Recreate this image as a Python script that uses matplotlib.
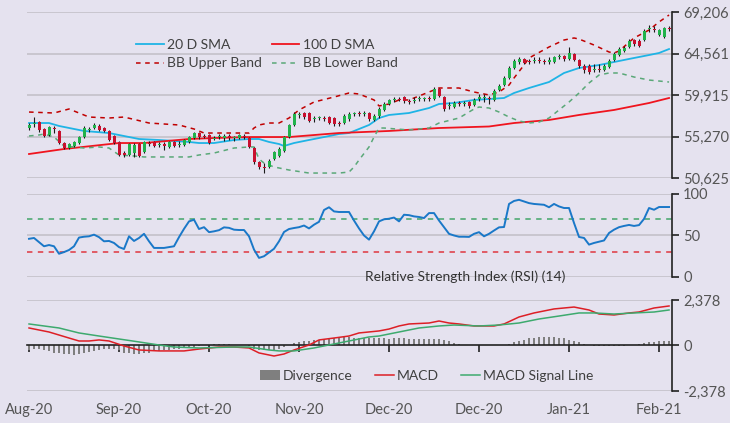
import numpy as np
import matplotlib.pyplot as plt

plt.rcParams['font.family'] = ['Lato', 'DejaVu Sans']

# ---- price candles (one per trading day) ----
opens = [56220, 56670, 56890, 56110, 55440, 56220, 55890, 54540, 53980, 54210,
         54540, 55210, 56000, 56220, 56450, 56220, 55890, 55330, 54660, 53420,
         53200, 53420, 54430, 53540, 54540, 54660, 54320, 54430, 54100, 54660,
         54320, 54320, 54660, 55100, 55660, 55330, 55440, 54990, 55210, 55100,
         55330, 55100, 55100, 55330, 55100, 53980, 52420, 51860, 51860, 52750,
         53090, 53650, 55210, 56560, 57680, 57900, 57900, 57230, 57340, 57340,
         57450, 57340, 56780, 56780, 57230, 57790, 57900, 57790, 57900, 57120,
         57570, 58240, 58910, 59360, 59470, 59690, 59240, 59240, 59470, 59470,
         59580, 59470, 60590, 59690, 58680, 58570, 59020, 58910, 59130, 58800,
         59470, 59580, 59580, 59360, 60480, 61030, 61820, 62940, 63610, 63950,
         63720, 63720, 63830, 63720, 63610, 63610, 64170, 64280, 63950, 64500,
         63830, 63160, 63160, 62710, 62830, 62710, 63050, 63830, 64390, 64840,
         65290, 66070, 65960, 66070, 67300, 67300, 66630, 66410, 67420]
closes = [56560, 56780, 56000, 55330, 56330, 56110, 54540, 53980, 54430, 54660,
          55210, 56220, 56110, 56560, 56000, 55890, 54880, 54540, 53200, 53200,
          54430, 54320, 53090, 54660, 54430, 54210, 54430, 54210, 54660, 54210,
          54430, 54880, 55210, 55660, 55210, 55210, 54540, 55100, 55330, 55330,
          55100, 55210, 55440, 55210, 54100, 52420, 51860, 51740, 52530, 53540,
          53870, 55210, 56560, 57790, 57790, 57450, 57010, 57340, 57450, 57230,
          56780, 56670, 56670, 57570, 57790, 57900, 57790, 57900, 57230, 57570,
          58350, 58910, 59360, 59470, 59360, 59240, 59130, 59360, 59580, 59580,
          59470, 60590, 59800, 58350, 58800, 59020, 58910, 59020, 58680, 59360,
          59690, 59690, 59470, 60360, 60920, 61820, 62940, 63720, 63950, 63500,
          63610, 63830, 63720, 63610, 63830, 64170, 64280, 63950, 64620, 63830,
          63160, 62710, 62490, 62830, 62710, 63160, 63720, 64500, 65060, 65180,
          65960, 65620, 65400, 67080, 67420, 67190, 67190, 67420, 67300]
highs = [56780, 57450, 57010, 56220, 56450, 56450, 56000, 54660, 54540, 54770,
         55330, 56450, 56330, 56780, 56670, 56330, 56000, 55440, 54770, 53650,
         54540, 54540, 54540, 54770, 54770, 54770, 54660, 54660, 54770, 54770,
         54770, 54990, 55330, 55770, 55770, 55550, 55550, 55330, 55550, 55550,
         55550, 55330, 55550, 55550, 55210, 54100, 52530, 52300, 52750, 53650,
         54100, 55330, 56670, 58010, 58010, 58010, 58010, 57570, 57570, 57570,
         57570, 57450, 57010, 57790, 58010, 58010, 58120, 58120, 58010, 57790,
         58570, 59130, 59470, 59690, 59690, 59800, 59470, 59690, 59800, 59690,
         59800, 60810, 60700, 59800, 59130, 59240, 59240, 59240, 59240, 59580,
         60030, 60030, 59800, 60590, 61150, 62040, 63160, 63950, 64170, 64060,
         63950, 64170, 64170, 63950, 64170, 64280, 64500, 64390, 65290, 64620,
         63950, 63390, 63390, 63390, 63390, 63390, 63950, 64730, 65290, 65400,
         66180, 66180, 66180, 67300, 67750, 67640, 67300, 67530, 67640]
lows = [56000, 56330, 55770, 55210, 55330, 55660, 54430, 53870, 53870, 54100,
        54430, 55100, 55770, 56110, 55890, 55770, 54770, 54430, 53090, 52980,
        53090, 52980, 52980, 53420, 54210, 54100, 54100, 53760, 53980, 54100,
        54100, 54210, 54540, 54990, 54990, 55100, 54430, 54880, 54990, 54770,
        54880, 54770, 54990, 54990, 53980, 52190, 51630, 51180, 51740, 52640,
        52980, 53540, 55100, 56450, 57340, 57230, 56890, 56890, 57120, 57010,
        56670, 56450, 56450, 56670, 57010, 57570, 57570, 57570, 57010, 57010,
        57340, 58120, 58800, 59130, 59240, 59020, 58910, 59020, 59240, 59240,
        59240, 59360, 59690, 58120, 58350, 58460, 58680, 58680, 58460, 58680,
        59240, 59130, 58910, 59240, 60360, 60920, 61710, 62830, 63390, 63390,
        63390, 63500, 63500, 63390, 63390, 63500, 63950, 63720, 63830, 63720,
        62940, 62380, 62270, 62490, 62490, 62600, 62940, 63720, 64280, 64730,
        65180, 65400, 65290, 65960, 66970, 66970, 66520, 66300, 67080]

# ---- overlay lines (day index, value) ----
sma20_day = [0, 4, 6, 11, 16, 22, 26, 32, 34, 37, 41, 44, 46, 48, 50, 51, 53, 56, 59, 62,
             64, 68, 70, 72, 76, 80, 82, 85, 89, 92, 95, 97, 100, 104, 107, 110, 114, 117,
             120, 122, 124, 126, 128]
sma20 = [56780, 56780, 56450, 55890, 55660, 54990, 54880, 54660, 54540, 54540, 54880,
         54990, 54990, 54660, 54430, 54210, 54540, 54880, 55210, 55550, 55660, 56560,
         57340, 57680, 57900, 58460, 58910, 59020, 59360, 59470, 59580, 60140, 60700,
         61370, 62380, 62940, 63270, 63610, 63950, 64170, 64390, 64620, 65060]
sma100_day = [0, 7, 18, 23, 32, 37, 44, 52, 62, 72, 82, 92, 97, 104, 110, 117, 124, 128]
sma100 = [53310, 53870, 54540, 54540, 54990, 55100, 55210, 55210, 55660, 55890, 56220,
          56390, 56780, 57120, 57680, 58240, 59020, 59580]
bb_up_day = [0, 5, 8, 12, 16, 19, 24, 30, 33, 35, 44, 45, 46, 48, 50, 52, 54, 57, 61, 64,
             66, 69, 70, 72, 74, 76, 80, 82, 86, 89, 92, 94, 96, 97, 99, 100, 104, 107,
             109, 110, 113, 116, 117, 118, 121, 124, 126, 128]
bb_up = [58010, 57900, 58350, 57450, 57340, 57450, 56780, 56560, 56110, 55660, 55660,
         56220, 56560, 56780, 56780, 57340, 58240, 59130, 59690, 60140, 60030, 59360,
         58690, 58910, 59360, 59360, 60250, 60700, 60700, 60250, 59920, 60250, 61030,
         61820, 63270, 64060, 65290, 66070, 66300, 66180, 65510, 64730, 64620, 64840,
         66300, 67190, 68090, 68870]
bb_low_day = [0, 2, 3, 5, 7, 11, 14, 16, 18, 21, 23, 26, 32, 34, 37, 41, 44, 45, 46, 47,
              48, 49, 52, 56, 59, 62, 64, 65, 66, 68, 69, 70, 71, 76, 80, 82, 86, 89, 90,
              92, 94, 96, 98, 100, 102, 104, 106, 108, 110, 112, 114, 116, 118, 121, 124,
              126, 128]
bb_low = [55330, 55440, 55550, 55210, 54210, 53980, 54100, 53980, 53200, 53090, 52980,
          52980, 52980, 53200, 53420, 53980, 54100, 54100, 52750, 52300, 52080, 51860,
          51520, 51180, 51180, 51180, 51290, 51860, 52640, 54100, 55210, 56220, 56220,
          56000, 56220, 56780, 57340, 58350, 58570, 58460, 58010, 57450, 57010, 56780,
          56890, 57340, 58240, 59130, 60140, 61260, 62150, 62380, 62380, 61930, 61590,
          61480, 61370]

# ---- RSI (14) ----
rsi = [46, 47, 42, 37, 38.5, 37, 28, 30, 32.5, 37, 47.5, 48.5, 49, 51, 48, 43, 43.4, 41,
       36, 33.7, 49, 43.4, 47, 52, 43, 35, 35, 35, 36, 37, 48, 58, 67, 69, 57.8, 60, 54,
       55, 56.4, 59.8, 59.2, 57, 56.6, 56.6, 49, 33, 23, 25, 29.5, 34, 43, 54.2, 57.8,
       59, 60, 62, 58.5, 63, 66.5, 80.7, 84, 79, 78.3, 78.3, 78.3, 68, 58.5, 50, 45, 55,
       67, 69.5, 70.2, 71.6, 67, 75, 74.5, 73, 72.3, 71, 77, 77, 68, 60, 52, 50, 48.5,
       48.5, 48.3, 52, 54, 49, 52, 56, 59.8, 60.2, 88, 91.6, 93, 91, 89, 88, 87.5, 87,
       84, 88, 85, 83.1, 83.1, 65, 48.2, 47, 39, 41, 42.5, 44, 53, 57, 60, 61.5, 62.7,
       61.5, 62.5, 70, 83.1, 81, 84.3, 84.3, 84.3]

# ---- MACD ----
divergence = [-210, -190, -190, -220, -310, -370, -400, -430, -470, -490, -430, -390, -340,
              -280, -220, -190, -170, -160, -260, -370, -400, -430, -420, -390, -370, -310,
              -290, -240, -210, -180, -160, -130, -100, -80, -50, 30, 50, 80, 80, 80, 60, 50,
              40, 30, -50, -160, -210, -260, -260, -240, -160, -80, 50, 130, 180, 210, 260,
              290, 310, 340, 370, 370, 390, 420, 420, 390, 370, 370, 370, 370, 380, 370, 360,
              370, 380, 370, 360, 360, 350, 340, 330, 320, 350, 300, 230, 150, 80, 30, 20,
              10, 10, 10, 10, 10, 10, 30, 80, 160, 260, 310, 370, 390, 420, 420, 420, 420,
              390, 370, 310, 240, 160, 80, 30, -30, -40, -50, -50, -40, -40, -30, 30, 50,
              100, 130, 160, 180, 210, 210, 210]
macd_day = [0, 4, 8, 10, 12, 14, 16, 19, 22, 26, 31, 34, 38, 41, 44, 46, 49, 51, 53, 56, 58,
            61, 64, 66, 70, 72, 74, 76, 80, 82, 84, 86, 89, 93, 95, 98, 101, 105, 109, 112,
            114, 117, 120, 122, 125, 128]
macd = [915, 705, 390, 235, 235, 290, 235, -25, -235, -285, -285, -185, -80, -80, -130,
        -390, -550, -445, -235, 25, 290, 390, 495, 655, 760, 860, 1020, 1125, 1175, 1280,
        1175, 1125, 1020, 1020, 1125, 1490, 1700, 1910, 2010, 1855, 1645, 1595, 1700, 1750,
        1960, 2065]
signal_day = [0, 6, 10, 14, 18, 22, 26, 29, 34, 41, 44, 48, 50, 53, 57, 61, 64, 68, 70, 74,
              78, 82, 85, 90, 94, 98, 102, 106, 110, 113, 117, 121, 125, 128]
signal = [1125, 915, 655, 495, 340, 185, 25, -80, -130, -80, -80, -235, -285, -285, -130,
          80, 235, 445, 495, 705, 915, 1020, 1070, 1020, 1070, 1175, 1385, 1540, 1700, 1700,
          1645, 1700, 1750, 1855]

price_ticks = [50625, 55270, 59915, 64561, 69206]
rsi_ticks = [0, 50, 100]
macd_ticks = [-2378, 0, 2378]
month_pos = [0, 18, 36, 54, 72, 90, 108, 126]
month_labels = ['Aug-20', 'Sep-20', 'Oct-20', 'Nov-20', 'Dec-20', 'Dec-20', 'Jan-21', 'Feb-21']

BG = '#E5E2EF'
GRID = '#C6C3CC'
TXT = '#555555'

fig = plt.figure(figsize=(7.3, 4.23), dpi=100, facecolor=BG)
ax1 = fig.add_axes([0.037, 0.5792, 0.8836, 0.3924])
ax2 = fig.add_axes([0.037, 0.3452, 0.8836, 0.1962])
ax3 = fig.add_axes([0.037, 0.0757, 0.8836, 0.2151])

for ax in (ax1, ax2, ax3):
    ax.set_facecolor(BG)
    ax.set_xlim(-0.4, 128.6)
    for s in ('top', 'left', 'bottom'):
        ax.spines[s].set_visible(False)
    ax.spines['right'].set_color('#222222')
    ax.spines['right'].set_linewidth(1.2)
    ax.yaxis.tick_right()
    ax.tick_params(axis='y', length=5, width=1.2, color='#222222', labelcolor=TXT,
                   labelsize=10.5, pad=3)
    ax.tick_params(axis='x', bottom=False, labelbottom=False)
    ax.grid(axis='y', color=GRID, lw=1.3)
    ax.set_axisbelow(True)

# price panel
o = np.array(opens)
c = np.array(closes)
days = np.arange(len(o))
body_col = np.where(c >= o, '#21B24B', '#C8102E')
ax1.vlines(days, lows, highs, color='#1a1a1a', lw=0.8, zorder=4)
ax1.bar(days, np.abs(c - o), bottom=np.minimum(o, c), width=0.6, color=body_col, zorder=5)
h20, = ax1.plot(sma20_day, sma20, color='#1FB4E6', lw=1.3, label='20 D SMA', zorder=3)
h100, = ax1.plot(sma100_day, sma100, color='#F0141E', lw=1.3, label='100 D SMA', zorder=3)
hup, = ax1.plot(bb_up_day, bb_up, color='#C00000', lw=1.1, ls=(0, (3, 3)),
                label='BB Upper Band', zorder=3)
hlo, = ax1.plot(bb_low_day, bb_low, color='#5AA878', lw=1.1, ls=(0, (3, 3)),
                label='BB Lower Band', zorder=3)
ax1.set_ylim(price_ticks[0], price_ticks[-1])
ax1.set_yticks(price_ticks, [f'{v:,}' for v in price_ticks])
ax1.legend(handles=[h20, hup, h100, hlo], ncol=2, loc='upper left',
           bbox_to_anchor=(0.16, 0.87), frameon=False, fontsize=10, handlelength=2.0,
           handletextpad=0.25, columnspacing=0.7, labelspacing=0.45, borderaxespad=0,
           labelcolor='#404040')

# RSI panel
ax2.plot(days, rsi, color='#1A78C8', lw=1.4, zorder=3)
ax2.axhline(70, color='#5BAF7D', lw=1.3, ls=(0, (3, 3)), zorder=2)
ax2.axhline(30, color='#E0505A', lw=1.3, ls=(0, (3, 3)), zorder=2)
ax2.set_ylim(0, 100)
ax2.set_yticks(rsi_ticks)
ax2.text(0.68, 0.0, 'Relative Strength Index (RSI) (14)', transform=ax2.transAxes,
         ha='center', va='center', fontsize=10, color='#333333')

# MACD panel
hdiv = ax3.bar(days, divergence, width=0.45, color='#7F7F7F', label='Divergence', zorder=2)
hm, = ax3.plot(macd_day, macd, color='#DD1F26', lw=1.1, label='MACD', zorder=3)
hs, = ax3.plot(signal_day, signal, color='#3DAA6E', lw=1.1, label='MACD Signal Line', zorder=3)
ax3.set_ylim(macd_ticks[0], macd_ticks[-1])
ax3.set_yticks(macd_ticks, [f'{v:,}' for v in macd_ticks])
ax3.grid(False)
for v in (macd_ticks[0], macd_ticks[-1]):
    ax3.axhline(v, color=GRID, lw=1.3, zorder=0)
ax3.spines['bottom'].set_visible(True)
ax3.spines['bottom'].set_position(('data', 0))
ax3.spines['bottom'].set_color('#222222')
ax3.spines['bottom'].set_linewidth(1.2)
ax3.set_xticks(month_pos)
ax3.tick_params(axis='x', bottom=True, labelbottom=False, direction='out', length=5,
                width=1.2, color='#222222')
sec = ax3.secondary_xaxis(0)
sec.set_xticks(month_pos, month_labels)
sec.spines['bottom'].set_visible(False)
sec.tick_params(axis='x', length=0, pad=9, labelsize=10.5, labelcolor=TXT)
ax3.legend(handles=[hdiv, hm, hs], ncol=3, loc='center', bbox_to_anchor=(0.62, 0.165),
           frameon=False, fontsize=10, handlelength=1.4, handletextpad=0.2,
           columnspacing=1.6, labelcolor='#404040')

fig.savefig('out.png', dpi=100, facecolor=BG)
